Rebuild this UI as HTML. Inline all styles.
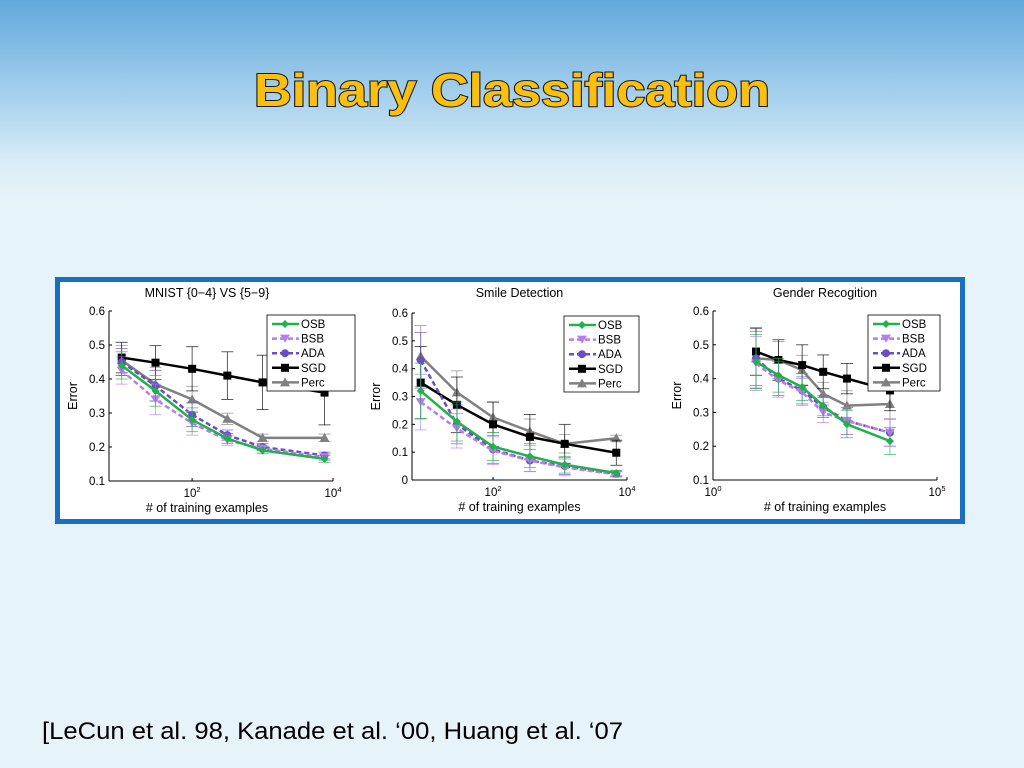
<!DOCTYPE html>
<html><head><meta charset="utf-8"><style>
html,body{margin:0;padding:0;width:1024px;height:768px;overflow:hidden}
body{background:linear-gradient(to bottom,#62a8dc 0px,#a9d2ee 100px,#dcedf7 165px,#e6f3f9 200px,#e6f3f9 768px);font-family:"Liberation Sans",sans-serif}
</style></head><body>
<svg id="root" width="1024" height="768" xmlns="http://www.w3.org/2000/svg" style="position:absolute;left:0;top:0">
<text x="512" y="106" text-anchor="middle" font-family="Liberation Sans, sans-serif" font-weight="bold" font-size="46" fill="#fbbf10" stroke="#1a1a1a" stroke-width="2" paint-order="stroke" textLength="516" lengthAdjust="spacingAndGlyphs">Binary Classification</text>
<rect x="57.5" y="279.5" width="905" height="242" fill="#fff" stroke="#1a6fc0" stroke-width="5"/>
<g id="charts"></g>
<text x="42" y="739" font-size="24" fill="#000" textLength="581" lengthAdjust="spacingAndGlyphs">[LeCun et al. 98, Kanade et al. ‘00, Huang et al. ‘07</text>
</svg>
<script>
// log10 of training sample counts
const xs1 = [1.0, 1.48, 2.0, 2.5, 3.0, 3.88];
const xs2 = [0.92, 1.46, 2.0, 2.55, 3.07, 3.84];
const xs3 = [0.96, 1.46, 1.99, 2.46, 2.99, 3.95];
const seriesNames = ["OSB","BSB","ADA","SGD","Perc"];
const mnistOSB = [0.44,0.365,0.28,0.225,0.19,0.165];
const mnistBSB = [0.425,0.34,0.27,0.22,0.195,0.17];
const mnistADA = [0.45,0.38,0.295,0.235,0.2,0.175];
const mnistSGD = [0.463,0.448,0.43,0.41,0.39,0.36];
const mnistPerc = [0.455,0.385,0.34,0.283,0.227,0.227];
const mnistErrSGD = [0.045,0.05,0.065,0.07,0.08,0.095];
const mnistErrOther = [0.04,0.045,0.035,0.015,0.01,0.01];
const smileOSB = [0.32,0.21,0.12,0.085,0.055,0.025];
const smileBSB = [0.28,0.185,0.105,0.07,0.045,0.02];
const smileADA = [0.43,0.2,0.11,0.07,0.05,0.022];
const smileSGD = [0.35,0.27,0.2,0.155,0.13,0.098];
const smilePerc = [0.445,0.315,0.225,0.175,0.13,0.15];
const smileErrSGD = [0.13,0.1,0.08,0.08,0.07,0.045];
const smileErrOther = [0.1,0.07,0.05,0.04,0.03,0.01];
const genderOSB = [0.45,0.41,0.375,0.32,0.265,0.215];
const genderBSB = [0.445,0.395,0.36,0.3,0.275,0.24];
const genderADA = [0.46,0.4,0.365,0.315,0.275,0.24];
const genderSGD = [0.48,0.455,0.44,0.42,0.4,0.365];
const genderPerc = [0.46,0.455,0.425,0.355,0.32,0.325];
const genderErrSGD = [0.07,0.06,0.06,0.05,0.045,0.06];
const genderErrOther = [0.08,0.05,0.04,0.03,0.04,0.04];
const yTicks13 = ["0.1","0.2","0.3","0.4","0.5","0.6"];
const yTicks2 = ["0","0.1","0.2","0.3","0.4","0.5","0.6"];

const NS="http://www.w3.org/2000/svg";
const root=document.getElementById('charts');
function mk(tag,attrs,parent){const e=document.createElementNS(NS,tag);for(const k in attrs)e.setAttribute(k,attrs[k]);(parent||root).appendChild(e);return e;}
const styles={OSB:{c:"#22b04b",d:"",m:"diamond"},BSB:{c:"#b77cf0",d:"5,3",m:"tri"},ADA:{c:"#6a4fc0",d:"5,3",m:"circle"},SGD:{c:"#000",d:"",m:"square"},Perc:{c:"#808080",d:"",m:"triup"}};
function marker(g,type,x,y,c){
  if(type==="diamond")mk('polygon',{points:`${x},${y-4} ${x+4},${y} ${x},${y+4} ${x-4},${y}`,fill:c},g);
  else if(type==="tri")mk('polygon',{points:`${x-5},${y-4} ${x+5},${y-4} ${x},${y+4}`,fill:c},g);
  else if(type==="triup")mk('polygon',{points:`${x-5},${y+4} ${x+5},${y+4} ${x},${y-5}`,fill:c},g);
  else if(type==="circle")mk('circle',{cx:x,cy:y,r:4,fill:c},g);
  else mk('rect',{x:x-4,y:y-4,width:8,height:8,fill:c},g);
}
function panel(cfg){
  const g=mk('g',{});
  
  
  const sx=v=>cfg.L+(v-cfg.xmin)/(cfg.xmax-cfg.xmin)*(cfg.R-cfg.L);
  const sy=v=>cfg.B-(v-cfg.ymin)/(cfg.ymax-cfg.ymin)*(cfg.B-cfg.T);
  const t=mk('text',{x:(cfg.L+cfg.R)/2+cfg.toff,y:297,'text-anchor':'middle','font-size':12.5},g);t.textContent=cfg.title;
  
  
  mk('line',{x1:cfg.L,y1:cfg.T,x2:cfg.L,y2:cfg.B,stroke:'#000','stroke-width':1},g);
  mk('line',{x1:cfg.L,y1:cfg.B,x2:cfg.R,y2:cfg.B,stroke:'#000','stroke-width':1},g);
  cfg.yticks.forEach(s=>{const v=parseFloat(s),y=sy(v);
    mk('line',{x1:cfg.L,y1:y,x2:cfg.L+3,y2:y,stroke:'#000'},g);
    const tt=mk('text',{x:cfg.L-4,y:y+4,'text-anchor':'end','font-size':11.5},g);tt.textContent=s;
    
    });
  cfg.xticks.forEach(p=>{const x=sx(p);
    mk('line',{x1:x,y1:cfg.B,x2:x,y2:cfg.B-3,stroke:'#000'},g);
    const tt=mk('text',{x:x,y:cfg.B+16,'text-anchor':'middle','font-size':11.5},g);
    tt.innerHTML=`10<tspan dy="-5" font-size="7.5">${p}</tspan>`;
    
    });
  const xl=mk('text',{x:(cfg.L+cfg.R)/2+cfg.toff,y:cfg.B+31,'text-anchor':'middle','font-size':12.5},g);xl.textContent="# of training examples";
  
  
  const yl=mk('text',{x:0,y:0,'text-anchor':'middle','font-size':12.5,transform:`translate(${cfg.L-32},${(cfg.T+cfg.B)/2}) rotate(-90)`},g);yl.textContent="Error";
  
  
  const order=["Perc","SGD","ADA","BSB","OSB"];
  order.forEach(n=>{const s=styles[n],vals=cfg.data[n],err=(n==="SGD")?cfg.errS:cfg.errO;
    const sg=mk('g',{},g);
    
    
    vals.forEach((v,i)=>{const x=sx(cfg.xs[i]);const e=n==="Perc"?err[i]*1.1:err[i];
      mk('line',{x1:x,y1:sy(v-e),x2:x,y2:sy(v+e),stroke:s.c,'stroke-width':0.8,opacity:0.8},sg);
      [v-e,v+e].forEach(w=>mk('line',{x1:x-6,y1:sy(w),x2:x+6,y2:sy(w),stroke:s.c,'stroke-width':0.8,opacity:0.8},sg));});
    mk('polyline',{points:vals.map((v,i)=>sx(cfg.xs[i])+','+sy(v)).join(' '),fill:'none',stroke:s.c,'stroke-width':2.5,'stroke-dasharray':s.d},sg);
    vals.forEach((v,i)=>marker(sg,s.m,sx(cfg.xs[i]),sy(v),s.c));
  });
  const lg=mk('g',{},g);
  
  
  mk('rect',{x:cfg.lx,y:cfg.ly,width:cfg.lw,height:76,fill:'#fff',stroke:'#000','stroke-width':0.8},lg);
  seriesNames.forEach((n,i)=>{const s=styles[n],y=cfg.ly+9+i*14.6;
    const e=mk('g',{},lg);
    
    
    mk('line',{x1:cfg.lx+5,y1:y,x2:cfg.lx+32,y2:y,stroke:s.c,'stroke-width':2.5,'stroke-dasharray':s.d},e);
    marker(e,s.m,cfg.lx+18,y,s.c);
    const tx=mk('text',{x:cfg.lx+34,y:y+4,'font-size':11.5},e);tx.textContent=n;});
}
panel({name:'mnist-chart',title:'MNIST {0−4} VS {5−9}',toff:-14,L:109,R:333,T:311,B:481,xmin:0.82,xmax:4,ymin:0.1,ymax:0.6,
  xs:xs1,xticks:[2,4],yticks:yTicks13,data:{OSB:mnistOSB,BSB:mnistBSB,ADA:mnistADA,SGD:mnistSGD,Perc:mnistPerc},errS:mnistErrSGD,errO:mnistErrOther,lx:267,ly:315,lw:88});
panel({name:'smile-chart',title:'Smile Detection',toff:0,L:412,R:627,T:313,B:480,xmin:0.79,xmax:4,ymin:0,ymax:0.6,
  xs:xs2,xticks:[2,4],yticks:yTicks2,data:{OSB:smileOSB,BSB:smileBSB,ADA:smileADA,SGD:smileSGD,Perc:smilePerc},errS:smileErrSGD,errO:smileErrOther,lx:564,ly:316,lw:75});
panel({name:'gender-chart',title:'Gender Recogition',toff:0,L:713,R:937,T:311,B:480,xmin:0,xmax:5,ymin:0.1,ymax:0.6,
  xs:xs3,xticks:[0,5],yticks:yTicks13,data:{OSB:genderOSB,BSB:genderBSB,ADA:genderADA,SGD:genderSGD,Perc:genderPerc},errS:genderErrSGD,errO:genderErrOther,lx:868,ly:315,lw:72});
</script>
</body></html>
